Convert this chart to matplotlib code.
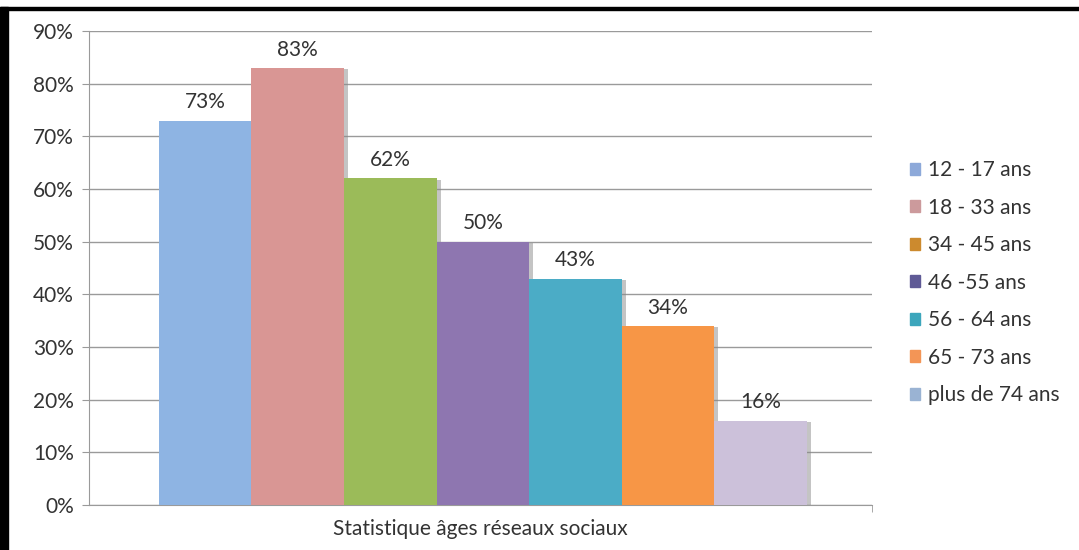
import matplotlib
matplotlib.use("Agg")
import matplotlib.pyplot as plt
import matplotlib.patches as mpatches
import matplotlib.patheffects as pe

plt.rcParams['font.family'] = ['Lato', 'DejaVu Sans']

# Data
age_groups = ['12 - 17 ans', '18 - 33 ans', '34 - 45 ans', '46 -55 ans',
              '56 - 64 ans', '65 - 73 ans', 'plus de 74 ans']
percentages = [73, 83, 62, 50, 43, 34, 16]
category = 'Statistique âges réseaux sociaux'

bar_colors = ['#8EB4E3', '#D99694', '#9BBB59', '#8E76B0',
              '#4BACC6', '#F79646', '#CCC1DA']
legend_colors = ['#8DA9D9', '#CC9A9C', '#CC8A2E', '#5F5A96',
                 '#3CA6BC', '#F39556', '#9AB3D3']

fs = 15
fig = plt.figure(figsize=(10.79, 5.5), dpi=100)
ax = fig.add_axes([89 / 1079, 45 / 550, 783 / 1079, 474 / 550])

n = len(percentages)
width = 0.1182
offsets = [(i - (n - 1) / 2) * width + 0.003 for i in range(n)]

for i, (x, v) in enumerate(zip(offsets, percentages)):
    bar = ax.bar(x, v, width=width, color=bar_colors[i], zorder=3)
    bar[0].set_path_effects([pe.SimplePatchShadow(offset=(3, -1), shadow_rgbFace='#8a8a8a', alpha=0.5),
                             pe.Normal()])
    ax.annotate(f'{v}%', (x, v), xytext=(0, 6), textcoords='offset points',
                ha='center', va='bottom', fontsize=fs, color='#333333')

ax.set_xlim(-0.5, 0.5)
ax.set_ylim(0, 90)
ax.set_yticks(range(0, 91, 10))
ax.set_yticklabels([f'{t}%' for t in range(0, 91, 10)], fontsize=fs, color='#333333')
ax.yaxis.grid(True, color='#9a9a9a', linewidth=1, zorder=0)
ax.set_axisbelow(True)

ax.set_xticks([0])
ax.set_xticklabels([category], fontsize=fs, color='#333333')
ax.set_xticks([0.5], minor=True)
ax.tick_params(axis='x', which='major', length=0, pad=10)
ax.tick_params(axis='x', which='minor', length=5, color='#9a9a9a')
ax.tick_params(axis='y', length=5, color='#9a9a9a', pad=6)

for s in ['top', 'right']:
    ax.spines[s].set_visible(False)
for s in ['left', 'bottom']:
    ax.spines[s].set_color('#9a9a9a')

handles = [mpatches.Patch(color=c, label=l) for c, l in zip(legend_colors, age_groups)]
fig.legend(handles=handles, loc='center left', bbox_to_anchor=(0.826, 0.486),
           frameon=False, fontsize=fs, handlelength=0.5, handleheight=0.5,
           handletextpad=0.35, labelspacing=0.84, labelcolor='#333333')

# black frame on the left and top edges
fig.add_artist(mpatches.Rectangle((0, 0), 8 / 1079, 1 - 7 / 550,
                                  transform=fig.transFigure, color='black'))
fig.add_artist(mpatches.Rectangle((0, 1 - 10 / 550), 1, 3 / 550,
                                  transform=fig.transFigure, color='black'))

fig.savefig('out.png', dpi=100)
